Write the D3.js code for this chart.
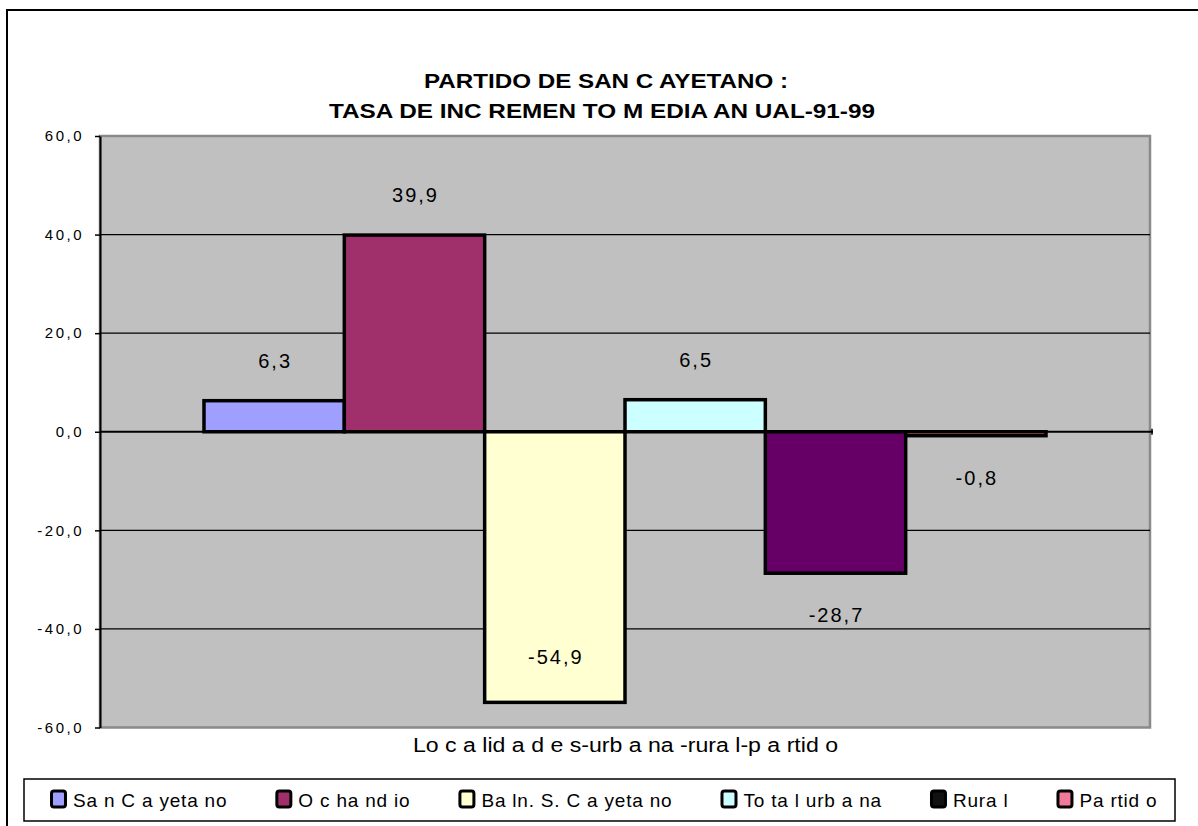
<!DOCTYPE html>
<html>
<head>
<meta charset="utf-8">
<script src="https://cdn.jsdelivr.net/npm/d3@7"></script>
<style>
  body { margin: 0; background: #fff; }
  text { font-family: "Liberation Sans", Arial, sans-serif; }
</style>
</head>
<body>
<svg width="1198" height="826"></svg>
<script>
const categories = ["Localidades"];
const seriesNames = ["Sa n C a yeta no", "O c ha nd io", "Ba ln. S. C a yeta no", "To ta l urb a na", "Rura l", "Pa rtid o"];
const values = [6.3, 39.9, -54.9, 6.5, -28.7, -0.8];
const yTicks = [-60, -40, -20, 0, 20, 40, 60];

const barColors = ["#9f9fff", "#a0306c", "#ffffd2", "#ccffff", "#660066", "#ff8080"];
const legendColors = ["#9f9fff", "#a0306c", "#ffffd2", "#ccffff", "#111111", "#f07a99"];

const svg = d3.select("svg");
const plotL = 100, plotR = 1150, plotT = 136, plotB = 727.5;

// outer frame
svg.append("rect")
  .attr("x", 7).attr("y", 10)
  .attr("width", 1400).attr("height", 1000)
  .attr("fill", "none").attr("stroke", "#000").attr("stroke-width", 2);

// titles
svg.append("text")
  .attr("x", 424).attr("y", 88)
  .attr("textLength", 364).attr("lengthAdjust", "spacingAndGlyphs")
  .attr("font-size", 20).attr("font-weight", "bold")
  .text("PARTIDO DE SAN C AYETANO :");

svg.append("text")
  .attr("x", 329).attr("y", 118)
  .attr("textLength", 546).attr("lengthAdjust", "spacingAndGlyphs")
  .attr("font-size", 20).attr("font-weight", "bold")
  .text("TASA DE INC REMEN TO M EDIA AN UAL-91-99");

const y = d3.scaleLinear().domain([-60, 60]).range([plotB, plotT]);
const x0 = d3.scaleBand().domain(categories).range([plotL, plotR])
  .paddingInner(0).paddingOuter(0.1235);
const x1 = d3.scaleBand().domain(seriesNames).range([0, x0.bandwidth()]);

// plot area
svg.append("rect")
  .attr("x", plotL).attr("y", plotT)
  .attr("width", plotR - plotL).attr("height", plotB - plotT)
  .attr("fill", "#c0c0c0")
  .attr("stroke", "#8a8a8a").attr("stroke-width", 2.5);

// gridlines
svg.append("g")
  .selectAll("line")
  .data(yTicks.filter(t => t !== 0 && Math.abs(t) !== 60))
  .join("line")
  .attr("x1", plotL).attr("x2", plotR)
  .attr("y1", d => y(d)).attr("y2", d => y(d))
  .attr("stroke", "#000").attr("stroke-width", 1.4);

// zero line
svg.append("line")
  .attr("x1", plotL).attr("x2", plotR + 3)
  .attr("y1", y(0)).attr("y2", y(0))
  .attr("stroke", "#000").attr("stroke-width", 2);
svg.append("line")
  .attr("x1", plotR + 2).attr("x2", plotR + 2)
  .attr("y1", y(0) - 3).attr("y2", y(0) + 3)
  .attr("stroke", "#000").attr("stroke-width", 1.5);

const fmt = v => d3.format(".1f")(v).replace(".", ",").replace("\u2212", "-");

// y axis
const yAxis = d3.axisLeft(y).tickValues(yTicks).tickSize(5).tickSizeOuter(0)
  .tickFormat(fmt);
const ag = svg.append("g")
  .attr("transform", `translate(${plotL},0)`)
  .call(yAxis);
ag.select(".domain").attr("stroke", "#000").attr("stroke-width", 2);
ag.selectAll(".tick line").attr("stroke", "#000").attr("stroke-width", 1.5);
ag.selectAll(".tick text")
  .attr("x", -16)
  .attr("font-size", 15)
  .attr("letter-spacing", "2.5px")
  .attr("fill", "#000")
  .attr("font-family", "Liberation Sans, Arial, sans-serif");

// bars
const bars = svg.append("g");
categories.forEach(cat => {
  seriesNames.forEach((s, i) => {
    const v = values[i];
    bars.append("rect")
      .attr("x", x0(cat) + x1(s))
      .attr("y", y(Math.max(0, v)))
      .attr("width", x1.bandwidth())
      .attr("height", Math.abs(y(v) - y(0)))
      .attr("fill", barColors[i])
      .attr("stroke", "#000").attr("stroke-width", 3.5)
      .attr("stroke-linejoin", "miter");
  });
});

// data labels
categories.forEach(cat => {
  seriesNames.forEach((s, i) => {
    const v = values[i];
    let ly;
    if (v >= 0) ly = y(v) - 33;
    else {
      ly = y(v) + 49;
      if (ly > plotB - 10) ly = y(v) - 38;
    }
    svg.append("text")
      .attr("x", x0(cat) + x1(s) + x1.bandwidth() / 2 + 1)
      .attr("y", ly)
      .attr("text-anchor", "middle")
      .attr("font-size", 20)
      .attr("letter-spacing", "2px")
      .text(fmt(v));
  });
});

// x axis title
svg.append("text")
  .attr("x", 413).attr("y", 752)
  .attr("textLength", 425).attr("lengthAdjust", "spacingAndGlyphs")
  .attr("font-size", 20)
  .text("Lo c a lid a d e s-urb a na -rura l-p a rtid o");

// legend
const lg = svg.append("g");
lg.append("rect")
  .attr("x", 24).attr("y", 779)
  .attr("width", 1151).attr("height", 42)
  .attr("fill", "#fff").attr("stroke", "#000").attr("stroke-width", 1.5);

let lx = 50;
seriesNames.forEach((s, i) => {
  lg.append("rect")
    .attr("x", lx + 1.5).attr("y", 791)
    .attr("width", 14).attr("height", 16)
    .attr("rx", 2.5)
    .attr("fill", legendColors[i])
    .attr("stroke", "#000").attr("stroke-width", 3);
  const t = lg.append("text")
    .attr("x", lx + 23).attr("y", 807)
    .attr("font-size", 19)
    .attr("letter-spacing", "0.8px")
    .text(s);
  lx += 23 + t.node().getComputedTextLength() + 48;
});
</script>
</body>
</html>
